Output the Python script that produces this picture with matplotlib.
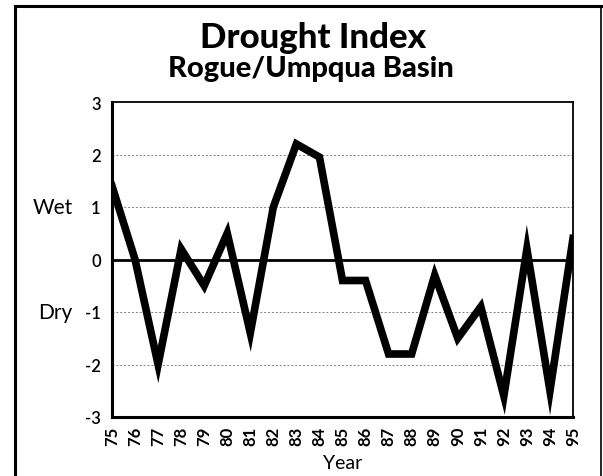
import matplotlib
matplotlib.use('Agg')
import matplotlib.pyplot as plt
from matplotlib.lines import Line2D

plt.rcParams['font.family'] = ['Lato', 'DejaVu Sans']

years = [75, 76, 77, 78, 79, 80, 81, 82, 83, 84, 85, 86, 87, 88, 89, 90, 91, 92, 93, 94, 95]
index = [1.4, 0.0, -2.0, 0.2, -0.5, 0.5, -1.4, 1.0, 2.2, 1.95, -0.4, -0.4, -1.8, -1.8,
         -0.3, -1.5, -0.9, -2.6, 0.2, -2.5, 0.4]
ytick_vals = [-3, -2, -1, 0, 1, 2, 3]
ytick_labels = ['-3', '-2', '-1', '0', '1', '2', '3']

fig = plt.figure(figsize=(6.03, 4.77), dpi=100)
ax = fig.add_axes([112/603, 1-418/477, (573-112)/603, (418-103)/477])

# outer frame of the page
fig.add_artist(Line2D([15/603, 15/603], [0, 1-7/477], color='black', lw=2.2, transform=fig.transFigure))
fig.add_artist(Line2D([15/603, 601/603], [1-7/477, 1-7/477], color='black', lw=2.2, transform=fig.transFigure))
fig.add_artist(Line2D([601/603, 601/603], [1-7/477, 0], color='black', lw=1.2, transform=fig.transFigure))

for v in [-2, -1, 1, 2]:
    ax.axhline(v, color='grey', lw=0.7, ls=(0, (2, 2)), zorder=1)
ax.axhline(0, color='black', lw=2, zorder=2)

ax.plot(years, index, color='black', lw=5.5, solid_joinstyle='miter', zorder=3)

ax.set_xlim(75, 95)
ax.set_ylim(-3, 3)
ax.set_xticks(years)
ax.set_xticklabels([str(y) for y in years], rotation=90, fontsize=12, fontweight='bold')
ax.set_yticks(ytick_vals)
ax.set_yticklabels(ytick_labels, fontsize=12, fontweight='semibold')
ax.tick_params(axis='x', length=0, pad=6)
ax.tick_params(axis='y', length=0, pad=8)
ax.grid(False)

for s in ['left', 'bottom']:
    ax.spines[s].set_linewidth(2.2)
for s in ['top', 'right']:
    ax.spines[s].set_linewidth(1.3)

ax.set_xlabel('Year', fontsize=14, labelpad=7)
ax.text(-0.085, 1/6*4, 'Wet', transform=ax.transAxes, ha='right', va='center', fontsize=15)
ax.text(-0.085, 1/6*2, 'Dry', transform=ax.transAxes, ha='right', va='center', fontsize=15)

fig.text(0.52, 1-38/477, 'Drought Index', ha='center', va='center', fontsize=25, fontweight='black')
fig.text(0.515, 1-69/477, 'Rogue/Umpqua Basin', ha='center', va='center', fontsize=21, fontweight='black')

fig.savefig('out.png', dpi=100)
